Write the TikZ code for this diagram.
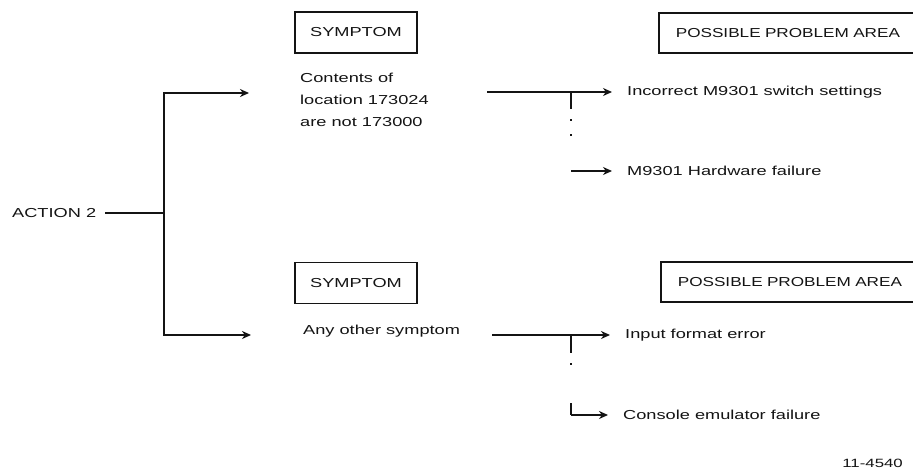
\documentclass[tikz,border=0pt]{standalone}
\usepackage{fontspec}
\newfontfamily\lab{Liberation Sans}[FakeStretch=1.4]
\newfontfamily\labn{Liberation Sans}[FakeStretch=1.32]
\usetikzlibrary{arrows.meta}
\definecolor{ink}{gray}{0.08}
\begin{document}
\begin{tikzpicture}[x=1pt,y=-1pt,
  every node/.style={font=\lab\fontsize{13}{22}\selectfont, text=ink},
  ln/.style={line width=1.6pt, draw=ink},
  arr/.style={ln, -{Stealth[length=9pt,width=8pt]}},
  vtop/.style={line width=1.2pt, draw=ink, dash pattern=on 17pt off 10pt on 2pt off 13pt on 2pt off 100pt},
  vbot/.style={line width=1.2pt, draw=ink, dash pattern=on 18pt off 10pt on 2pt off 38pt on 30pt},
  box/.style={draw=ink, line width=1.6pt, minimum width=122pt, minimum height=41pt, inner sep=0pt},
  pbox/.style={draw=ink, line width=1.6pt, minimum height=40pt, anchor=west, text width=260pt, inner xsep=17pt, align=left, font=\labn\fontsize{13}{22}\selectfont},
  res/.style={anchor=west, inner xsep=15pt, inner ysep=2pt},
  txt/.style={anchor=west, inner sep=0pt, align=left}]
\clip (0,0) rectangle (913,471);
\fill[white] (0,0) rectangle (913,471);

% left part
\node[anchor=west, inner xsep=9pt] (act) at (3,213) {ACTION 2};
\coordinate (J) at (164,213);
\coordinate (a1) at (249,93);
\coordinate (a2) at (251,335);
\draw[ln] (act) -- (J);
\draw[arr] (J) |- (a1);
\draw[arr] (J) |- (a2);

% symptom boxes and texts
\node[box] (sym1) at (356,32.5) {SYMPTOM};
\node[txt] (c1) at (300,100) {Contents of\\location 173024\\are not 173000};
\node[box] (sym2) at (356,283) {SYMPTOM};
\node[txt] (c2) at (303,331) {Any other symptom};

% problem area boxes
\node[pbox] (pa1) at (658,33) {POSSIBLE PROBLEM AREA};
\node[pbox] (pa2) at (660,282) {POSSIBLE PROBLEM AREA};

% top branch
\coordinate (s1) at (487,92);
\coordinate (j1) at (571,92);
\node[res] (r1) at (612,92) {Incorrect M9301 switch settings};
\node[res] (r2) at (612,171) {M9301 Hardware failure};
\draw[arr] (s1) -- (r1);
\draw[vtop] (j1) -- (j1 |- r2);
\draw[arr] (j1 |- r2) -- (r2);

% bottom branch
\coordinate (s2) at (492,335);
\coordinate (j2) at (571,335);
\node[res] (r3) at (610,335) {Input format error};
\node[res] (r4) at (608,415) {Console emulator failure};
\draw[arr] (s2) -- (r3);
\draw[vbot] (j2) -- (j2 |- r4);
\draw[arr] (j2 |- r4) -- (r4);

% figure number
\node[anchor=east, inner sep=0pt, font=\lab\fontsize{12}{14}\selectfont] (fig) at (903,463) {11-4540};
\end{tikzpicture}
\end{document}
